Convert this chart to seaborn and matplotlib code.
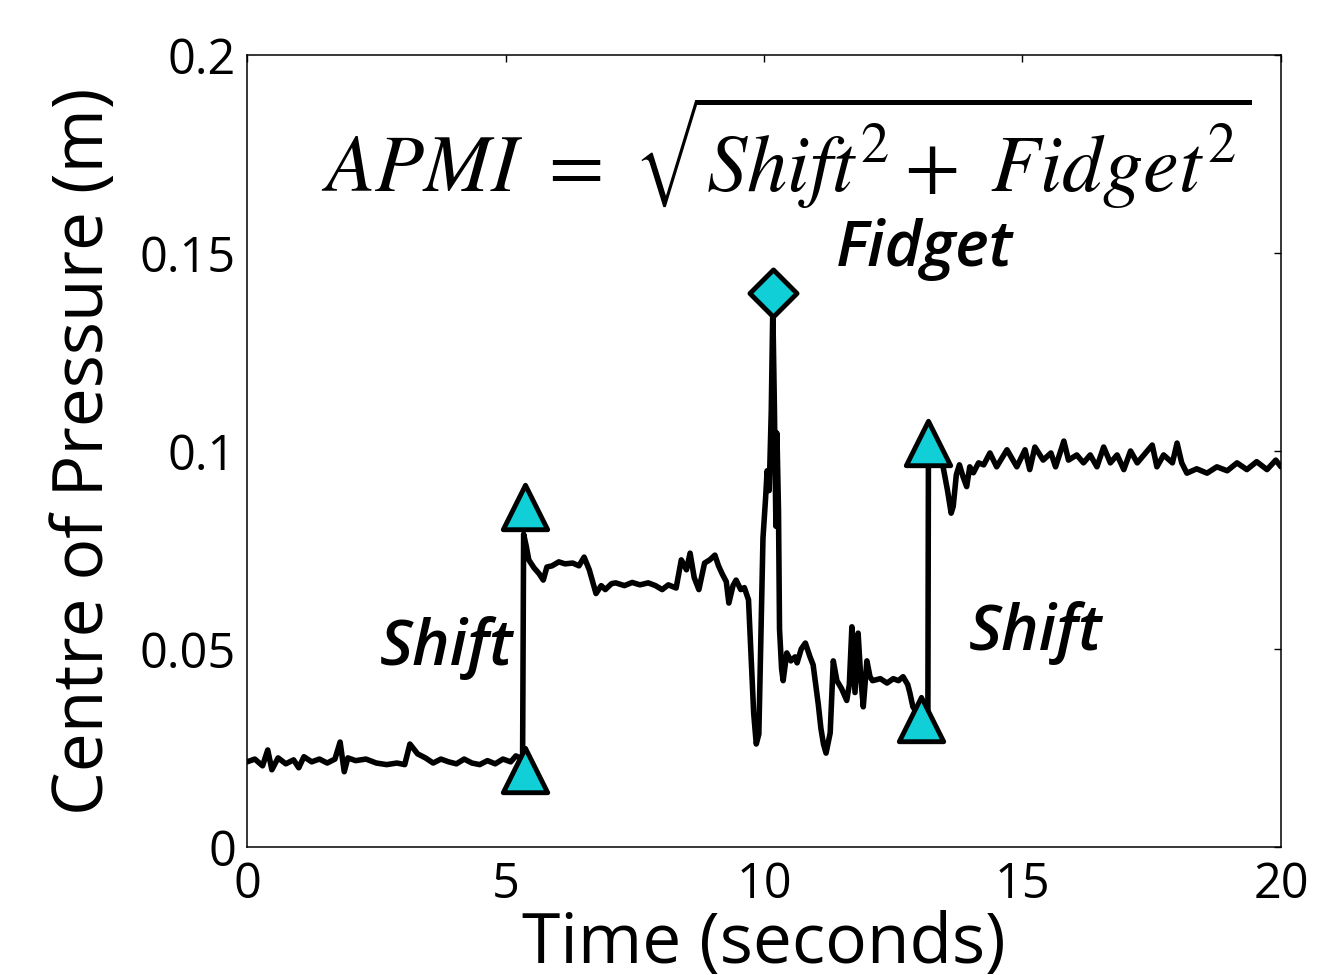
import matplotlib
matplotlib.use("Agg")
import matplotlib.pyplot as plt
import seaborn as sns
import pandas as pd

# ---------------------------------------------------------------------------
# Data (time in s, centre of pressure in m)
# ---------------------------------------------------------------------------
time_s = [
    0.00, 0.15, 0.30, 0.40, 0.48, 0.60, 0.75, 0.90, 1.00, 1.10, 1.25, 1.40,
    1.55, 1.70, 1.80, 1.88, 1.95, 2.10, 2.30, 2.50, 2.70, 2.90, 3.05, 3.15,
    3.30, 3.45, 3.60, 3.75, 3.90, 4.05, 4.20, 4.35, 4.50, 4.65, 4.80, 4.95,
    5.10, 5.20, 5.28, 5.33, 5.35, 5.40,
    5.45, 5.55, 5.65, 5.73, 5.80, 5.90, 6.03, 6.15, 6.30, 6.42, 6.52, 6.62,
    6.75, 6.85, 6.93, 7.05, 7.13, 7.30, 7.45, 7.60, 7.76, 7.90, 8.03, 8.15,
    8.30, 8.40, 8.50, 8.57, 8.65, 8.74, 8.85, 8.95, 9.05, 9.12, 9.19, 9.27,
    9.32, 9.40, 9.46, 9.55, 9.62, 9.70, 9.76, 9.80, 9.85, 9.90, 9.94, 9.98,
    10.03, 10.06, 10.10, 10.14, 10.17, 10.20, 10.23, 10.25, 10.28, 10.30,
    10.34, 10.37, 10.44, 10.52, 10.60, 10.64, 10.72, 10.80, 10.89, 10.95,
    10.99, 11.05, 11.10, 11.15, 11.20, 11.28, 11.34, 11.41, 11.50, 11.60,
    11.65, 11.70, 11.76, 11.82, 11.87, 11.92, 11.99, 12.05, 12.10, 12.25,
    12.38, 12.50, 12.60, 12.69, 12.78, 12.82, 12.88, 12.95, 13.05, 13.12,
    13.17, 13.18, 13.30, 13.45, 13.55, 13.62, 13.66, 13.72, 13.78, 13.85,
    13.92, 13.98, 14.05, 14.15, 14.25, 14.37, 14.50, 14.70, 14.89, 15.05,
    15.14, 15.24, 15.40, 15.55, 15.64, 15.80, 15.89, 16.05, 16.18, 16.31,
    16.44, 16.57, 16.70, 16.83, 16.96, 17.09, 17.22, 17.35, 17.51, 17.60,
    17.73, 17.90, 17.99, 18.08, 18.18, 18.37, 18.57, 18.76, 18.96, 19.15,
    19.34, 19.53, 19.73, 19.90, 20.00,
]
cop_m = [
    0.0215, 0.0222, 0.0205, 0.0245, 0.0195, 0.0225, 0.0210, 0.0220, 0.0200,
    0.0228, 0.0215, 0.0222, 0.0212, 0.0222, 0.0265, 0.0190, 0.0225, 0.0218,
    0.0222, 0.0212, 0.0208, 0.0212, 0.0208, 0.0260, 0.0235, 0.0225, 0.0212,
    0.0222, 0.0215, 0.0210, 0.0222, 0.0212, 0.0208, 0.0218, 0.0210, 0.0222,
    0.0215, 0.0230, 0.0225, 0.0225, 0.0790, 0.0760,
    0.0725, 0.0705, 0.0690, 0.0674, 0.0707, 0.0710, 0.0720, 0.0715, 0.0717,
    0.0710, 0.0732, 0.0700, 0.0640, 0.0660, 0.0650, 0.0665, 0.0667, 0.0660,
    0.0668, 0.0662, 0.0667, 0.0660, 0.0650, 0.0662, 0.0654, 0.0725, 0.0700,
    0.0742, 0.0680, 0.0650, 0.0717, 0.0725, 0.0737, 0.0710, 0.0690, 0.0670,
    0.0616, 0.0660, 0.0674, 0.0650, 0.0655, 0.0624, 0.0450, 0.0338, 0.0260,
    0.0285, 0.0530, 0.0780, 0.0880, 0.0950, 0.0900, 0.1100, 0.1360, 0.1120,
    0.0810, 0.1045, 0.0850, 0.0550, 0.0450, 0.0420, 0.0490, 0.0470, 0.0480,
    0.0465, 0.0500, 0.0515, 0.0480, 0.0460, 0.0420, 0.0360, 0.0300, 0.0260,
    0.0237, 0.0288, 0.0470, 0.0420, 0.0400, 0.0370, 0.0410, 0.0556, 0.0390,
    0.0540, 0.0430, 0.0354, 0.0470, 0.0430, 0.0420, 0.0425, 0.0414, 0.0425,
    0.0420, 0.0430, 0.0410, 0.0390, 0.0354, 0.0340, 0.0330, 0.0340, 0.0340,
    0.0970, 0.0995, 0.0970, 0.0900, 0.0843, 0.0860, 0.0940, 0.0965, 0.0935,
    0.0910, 0.0960, 0.0945, 0.0970, 0.0965, 0.0995, 0.0960, 0.1003, 0.0960,
    0.1003, 0.0953, 0.1010, 0.0977, 0.0995, 0.0960, 0.1025, 0.0977, 0.0990,
    0.0970, 0.0990, 0.0960, 0.1010, 0.0970, 0.0990, 0.0953, 0.1000, 0.0970,
    0.0990, 0.1015, 0.0960, 0.0990, 0.0970, 0.1020, 0.0970, 0.0944, 0.0955,
    0.0944, 0.0960, 0.0950, 0.0970, 0.0953, 0.0973, 0.0953, 0.0977, 0.0960,
]

shift_t = [5.38, 5.38, 13.04, 13.17]
shift_v = [0.0194, 0.0859, 0.0323, 0.1020]
fidget_t = [10.17]
fidget_v = [0.1400]

x_ticks = [0, 5, 10, 15, 20]
y_ticks = [0, 0.05, 0.1, 0.15, 0.2]
y_tick_labels = ["0", "0.05", "0.1", "0.15", "0.2"]

MARK_COLOR = "#10cfd7"

sns.set_style("white")
plt.rcParams["font.family"] = ["Open Sans", "DejaVu Sans"]
plt.rcParams["mathtext.fontset"] = "stix"
plt.rcParams["text.color"] = "black"
plt.rcParams["axes.labelcolor"] = "black"

fig = plt.figure(figsize=(13.24, 9.75), dpi=100)
ax = fig.add_axes([0.1866, 0.1313, 0.7809, 0.8123])

df = pd.DataFrame({"t": time_s, "cop": cop_m})
sns.lineplot(data=df, x="t", y="cop", ax=ax, color="black", linewidth=4.0,
             sort=False, estimator=None, zorder=2)

sns.scatterplot(x=shift_t, y=shift_v, ax=ax, marker="^", s=32 ** 2,
                color=MARK_COLOR, edgecolor="black", linewidth=3.5, zorder=4)
sns.scatterplot(x=fidget_t, y=fidget_v, ax=ax, marker="D", s=24 ** 2,
                color=MARK_COLOR, edgecolor="black", linewidth=3.5, zorder=4)

# annotations
ann = dict(fontsize=46, fontweight="semibold", style="italic", ha="center", va="center")
ax.text(3.85, 0.0503, "Shift", **ann)
ax.text(15.26, 0.054, "Shift", **ann)
ax.text(13.11, 0.1508, "Fidget", **ann)
ax.text(10.42, 0.1755, r"$APMI\ =\ \sqrt{Shift^2 +\ Fidget^2}$", fontsize=58,
        ha="center", va="center")

ax.set_xlim(0, 20)
ax.set_ylim(0, 0.2)
ax.set_xticks(x_ticks)
ax.set_xticklabels([str(v) for v in x_ticks])
ax.set_yticks(y_ticks)
ax.set_yticklabels(y_tick_labels)
ax.tick_params(direction="in", length=5, width=1, top=True, right=True,
               labelsize=35, colors="black", pad=8)
ax.tick_params(axis="x", pad=10)

for sp in ax.spines.values():
    sp.set_visible(True)
    sp.set_color("black")
    sp.set_linewidth(1.1)

ax.set_xlabel("Time (seconds)", fontsize=50, fontweight="medium", labelpad=0)
ax.set_ylabel("Centre of Pressure (m)", fontsize=50, fontweight="medium", labelpad=14)

fig.savefig("out.png", dpi=100)
